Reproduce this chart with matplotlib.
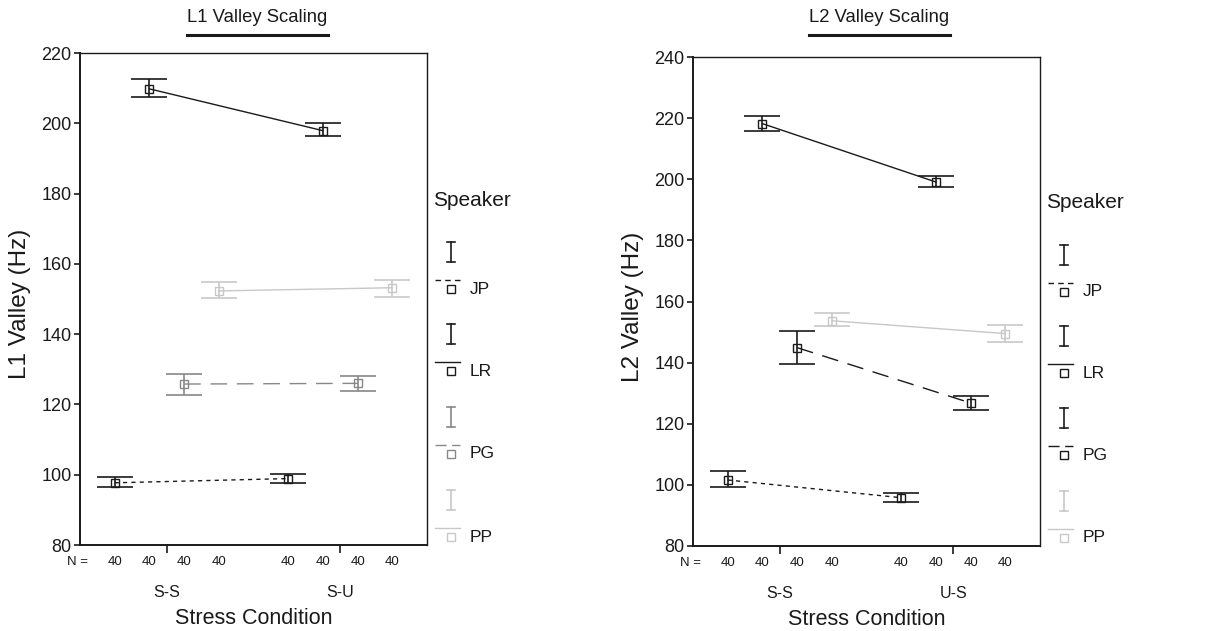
import matplotlib
matplotlib.use('Agg')
import matplotlib.pyplot as plt
from matplotlib.lines import Line2D

plt.rcParams['font.family'] = ['Liberation Sans', 'DejaVu Sans']

# data
speakers = ['JP', 'LR', 'PG', 'PP']
n_counts = [40, 40, 40, 40]

l1_conditions = ['S-S', 'S-U']
l1_mean = [[97.7, 98.9], [209.8, 197.9], [125.8, 126.0], [152.3, 153.2]]
l1_low = [[96.4, 97.6], [207.4, 196.3], [122.7, 123.9], [150.2, 150.7]]
l1_high = [[99.4, 100.3], [212.5, 200.1], [128.7, 128.2], [154.9, 155.4]]

l2_conditions = ['S-S', 'U-S']
l2_mean = [[101.6, 95.8], [218.2, 199.1], [144.9, 126.8], [153.7, 149.5]]
l2_low = [[99.2, 94.4], [215.8, 197.6], [139.6, 124.4], [151.9, 146.9]]
l2_high = [[104.6, 97.4], [220.7, 201.2], [150.5, 129.2], [156.2, 152.4]]

offsets = [-0.3, -0.1, 0.1, 0.3]
styles = [(0, (3, 3)), '-', (0, (12, 7)), '-']
legend_styles = [(0, (4, 3)), '-', (0, (8, 4)), '-']
DARK = '#1a1a1a'
l1_colors = [DARK, DARK, '#888888', '#c8c8c8']
l2_colors = [DARK, DARK, DARK, '#c8c8c8']

W, H = 1226, 631
fig = plt.figure(figsize=(W / 100, H / 100), dpi=100)


def panel(rect, conds, mean, low, high, colors, yticks, ylabel, title, title_x):
    ax = fig.add_axes(rect)
    for i, sp in enumerate(speakers):
        xs = [c + offsets[i] for c in range(len(conds))]
        yerr = [[m - l for m, l in zip(mean[i], low[i])],
                [h - m for m, h in zip(mean[i], high[i])]]
        ax.plot(xs, mean[i], color=colors[i], lw=1.0, linestyle=styles[i])
        ax.errorbar(xs, mean[i], yerr=yerr, fmt='none', ecolor=colors[i],
                    elinewidth=1.2, capsize=13, capthick=1.2)
        ax.plot(xs, mean[i], 's', mfc='none', mec=colors[i], ms=6, mew=1.0)
        for x in xs:
            ax.text(x, -0.035, str(n_counts[i]), transform=ax.get_xaxis_transform(),
                    ha='center', va='center', fontsize=9.5, color=DARK)
    ax.text(-0.455, -0.035, 'N =', transform=ax.get_xaxis_transform(),
            ha='right', va='center', fontsize=9.5, color=DARK)
    ax.set_xlim(-0.5, len(conds) - 0.5)
    ax.set_ylim(yticks[0], yticks[-1])
    ax.set_yticks(yticks)
    ax.set_xticks(range(len(conds)), conds)
    ax.tick_params(axis='y', length=4, width=1.2, pad=2, labelsize=13, colors=DARK)
    ax.tick_params(axis='x', length=6, width=1.2, pad=23, labelsize=11.5, colors=DARK)
    for side in ['left', 'bottom']:
        ax.spines[side].set_linewidth(1.4)
    for side in ['top', 'right']:
        ax.spines[side].set_linewidth(1.0)
    for s in ax.spines.values():
        s.set_color(DARK)
    ax.set_xlabel('Stress Condition', fontsize=15.5, color=DARK, va='center')
    ax.xaxis.set_label_coords(0.5, -0.15)
    ax.set_ylabel(ylabel, fontsize=17.5, color=DARK)
    ax.yaxis.set_label_coords(-0.14, 0.49)
    fig.text(title_x / W, 1 - 18 / H, title, ha='center', va='center',
             fontsize=13.3, color=DARK)
    return ax


panel([80 / W, 1 - 545 / H, 347 / W, 492 / H], l1_conditions, l1_mean, l1_low, l1_high,
      l1_colors, list(range(80, 221, 20)), 'L1 Valley (Hz)', 'L1 Valley Scaling', 257.5)
panel([693 / W, 1 - 546 / H, 347 / W, 489 / H], l2_conditions, l2_mean, l2_low, l2_high,
      l2_colors, list(range(80, 241, 20)), 'L2 Valley (Hz)', 'L2 Valley Scaling', 879.5)

# overlay in pixel coordinates for title underlines and legends
ov = fig.add_axes([0, 0, 1, 1])
ov.set_xlim(0, W)
ov.set_ylim(H, 0)
ov.axis('off')
ov.add_line(Line2D([187, 328], [35, 35], color=DARK, lw=2.2))
ov.add_line(Line2D([809, 950], [35, 35], color=DARK, lw=2.2))


def legend(x0, title_y, icon_ys, colors):
    ov.text(x0 - 2, title_y, 'Speaker', fontsize=15, color=DARK, ha='left', va='center')
    xi = x0 + 16
    for i, sp in enumerate(speakers):
        yc = icon_ys[i]
        c = colors[i]
        ov.add_line(Line2D([xi, xi], [yc - 10, yc + 10], color=c, lw=1.2))
        ov.add_line(Line2D([xi - 4, xi + 4], [yc - 10, yc - 10], color=c, lw=1.2))
        ov.add_line(Line2D([xi - 4, xi + 4], [yc + 10, yc + 10], color=c, lw=1.2))
        ly = yc + 28
        ov.add_line(Line2D([x0, x0 + 25], [ly, ly], color=c, lw=1.0,
                           linestyle=legend_styles[i]))
        ov.plot([xi], [ly + 9], 's', mfc='none', mec=c, ms=6, mew=1.0)
        ov.text(x0 + 35, ly + 9, sp, fontsize=12.5, color=DARK, ha='left', va='center')


legend(435, 200, [252, 334, 417, 500], l1_colors)
legend(1048, 202, [255, 336, 418, 501], l2_colors)

fig.savefig('out.png', dpi=100)
